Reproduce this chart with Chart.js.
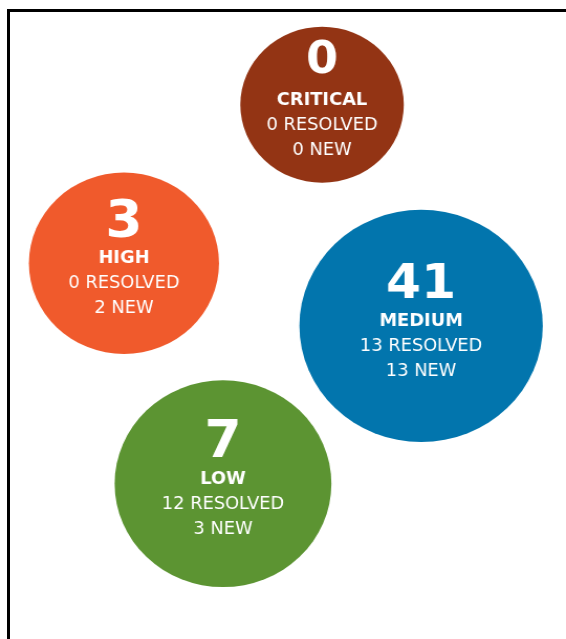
<!DOCTYPE html>
<html>
<head>
<meta charset="utf-8">
<script src="https://cdn.jsdelivr.net/npm/chart.js@4/dist/chart.umd.min.js"></script>
<style>
  html, body { margin: 0; padding: 0; background: #fff; overflow: hidden; }
  #frame {
    position: absolute; left: 7px; top: 9px; width: 620px; height: 700px;
    border-left: 3px solid #000; border-top: 3px solid #000;
  }
  #wrap { position: absolute; left: 0; top: 0; width: 566px; height: 639px; }
</style>
</head>
<body>
<div id="frame"></div>
<div id="wrap">
  <!-- drawn at 540 wide and shown at 566, the reference is slightly stretched sideways -->
  <canvas id="severityBubbles" width="540" height="639" style="width:566px;height:639px"></canvas>
</div>
<script>
// Issue counts per severity
const severities = ["CRITICAL", "HIGH", "MEDIUM", "LOW"];
const totals = [0, 3, 41, 7];
const resolved = [0, 0, 13, 12];
const newIssues = [0, 2, 13, 3];

// Layout of the bubbles (units of 0-100 across the whole canvas) and looks
const bubbleX = [56.9, 21.9, 74.4, 39.4];
const bubbleY = [16.4, 41.2, 51.0, 75.7];
const colors = ["#933414", "#F05A2C", "#0275AD", "#5C9432"];
const numberSizes = [44, 51, 48, 51];
const numberLift = [32, 26, 28, 27];

const CANVAS_W = 540, CANVAS_H = 639;

// Bubble size grows with the rank of the total, not the raw value
const ranked = [...totals].sort((a, b) => a - b);
const radii = totals.map(v => 78 + ranked.indexOf(v) * 12.7);

// Chart.js keeps the largest radius free on every side of a bubble chart,
// so the plot area only covers pad..(100 - pad) of the canvas
const pad = Math.max(...radii);
const padX = pad / CANVAS_W * 100;
const padY = pad / CANVAS_H * 100;

const bubbleText = {
    id: "bubbleText",
    afterDatasetsDraw(chart) {
        const ctx = chart.ctx;
        chart.getDatasetMeta(0).data.forEach((pt, i) => {
            ctx.save();
            ctx.fillStyle = "#fff";
            ctx.textAlign = "center";
            ctx.textBaseline = "alphabetic";

            ctx.font = `bold ${numberSizes[i]}px "DejaVu Sans"`;
            ctx.fillText(String(totals[i]), pt.x, pt.y - numberLift[i]);

            ctx.font = 'bold 17px "DejaVu Sans"';
            ctx.fillText(severities[i], pt.x, pt.y);

            ctx.font = '17px "DejaVu Sans"';
            ctx.fillText(`${resolved[i]} RESOLVED`, pt.x, pt.y + 25);
            ctx.fillText(`${newIssues[i]} NEW`, pt.x, pt.y + 50);
            ctx.restore();
        });
    }
};

new Chart(document.getElementById("severityBubbles"), {
    type: "bubble",
    data: {
        labels: severities,
        datasets: [{
            data: severities.map((s, i) => ({ x: bubbleX[i], y: bubbleY[i], r: radii[i] })),
            backgroundColor: colors,
            borderWidth: 0,
            hoverBorderWidth: 0,
            hoverRadius: 0,
            clip: false
        }]
    },
    options: {
        responsive: false,
        animation: false,
        events: [],
        layout: { padding: 0 },
        plugins: { legend: { display: false }, tooltip: { enabled: false } },
        scales: {
            x: { display: false, min: padX, max: 100 - padX },
            y: { display: false, min: padY, max: 100 - padY, reverse: true }
        }
    },
    plugins: [bubbleText]
});
</script>
</body>
</html>
